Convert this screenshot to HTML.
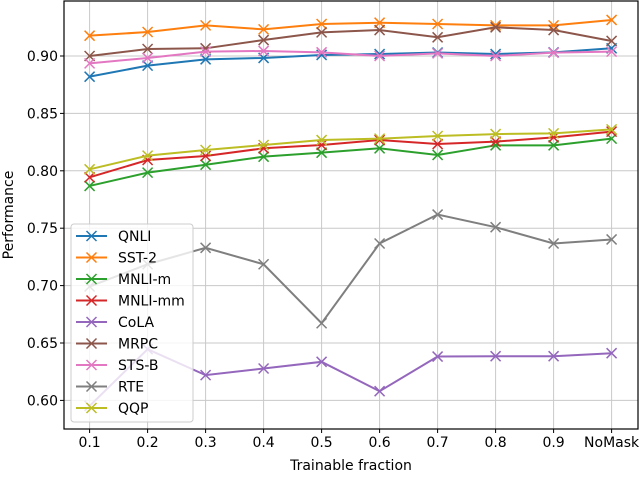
<!DOCTYPE html>
<html><head><meta charset="utf-8"><style>
body{margin:0;background:#fff}
text{font-family:"DejaVu Sans","Liberation Sans",sans-serif;fill:#000}
</style></head><body>
<svg id="chart" width="640" height="473" xmlns="http://www.w3.org/2000/svg"></svg>
<script>
const categories=["0.1","0.2","0.3","0.4","0.5","0.6","0.7","0.8","0.9","NoMask"];
const yTicks=[0.60,0.65,0.70,0.75,0.80,0.85,0.90];
const seriesNames=["QNLI","SST-2","MNLI-m","MNLI-mm","CoLA","MRPC","STS-B","RTE","QQP"];
const seriesColors=["#1f77b4","#ff7f0e","#2ca02c","#d62728","#9467bd","#8c564b","#e377c2","#7f7f7f","#bcbd22"];
const qnli=[0.882,0.8916,0.8971,0.8983,0.9009,0.9017,0.9030,0.9017,0.9032,0.9067];
const sst2=[0.9177,0.9209,0.9267,0.9232,0.9279,0.9290,0.9279,0.9267,0.9267,0.9314];
const mnliM=[0.7868,0.7984,0.8053,0.8123,0.8158,0.8196,0.8138,0.8222,0.8222,0.828];
const mnliMM=[0.7943,0.8094,0.8129,0.8196,0.8225,0.8268,0.8233,0.8254,0.8291,0.8341];
const cola=[0.5952,0.6446,0.622,0.6278,0.6336,0.608,0.6382,0.6385,0.6385,0.6411];
const mrpc=[0.900,0.9061,0.9067,0.9139,0.9206,0.9226,0.9163,0.925,0.9226,0.9131];
const stsb=[0.8936,0.8983,0.9038,0.9044,0.9032,0.900,0.9023,0.900,0.9029,0.9038];
const rte=[0.6992,0.7186,0.7329,0.7186,0.6672,0.7367,0.7619,0.7509,0.7367,0.7402];
const qqp=[0.8013,0.8132,0.8181,0.8225,0.8268,0.828,0.8303,0.832,0.8326,0.8361];
const seriesData=[qnli,sst2,mnliM,mnliMM,cola,mrpc,stsb,rte,qqp];

const L=64,R=638,T=1,B=429;
const x0=89.6,dx=58.0;
function xs(i){return x0+i*dx;}
function ys(v){return 56+(0.90-v)/0.05*57.4;}
const NS="http://www.w3.org/2000/svg";
const svg=document.getElementById('chart');
function mk(tag,attrs,parent){const e=document.createElementNS(NS,tag);for(const k in attrs)e.setAttribute(k,attrs[k]);(parent||svg).appendChild(e);return e;}

const grid=mk('g',{});


categories.forEach((c,i)=>{
  mk('line',{x1:xs(i),x2:xs(i),y1:T,y2:B,stroke:'#c8c8c8','stroke-width':1},grid);
  mk('line',{x1:xs(i),x2:xs(i),y1:B,y2:B+4,stroke:'#000','stroke-width':1},grid);
  const t=mk('text',{x:xs(i),y:B+18,'font-size':14,'text-anchor':'middle'});
  t.textContent=c;
  
  
});
yTicks.forEach(v=>{
  mk('line',{x1:L,x2:R,y1:ys(v),y2:ys(v),stroke:'#c8c8c8','stroke-width':1},grid);
  mk('line',{x1:L-4,x2:L,y1:ys(v),y2:ys(v),stroke:'#000','stroke-width':1},grid);
  const t=mk('text',{x:L-6,y:ys(v)+5,'font-size':14,'text-anchor':'end'});
  t.textContent=v.toFixed(2);
  
  
});

seriesData.forEach((d,si)=>{
  const g=mk('g',{});
  
  
  mk('polyline',{points:d.map((v,i)=>xs(i)+','+ys(v)).join(' '),fill:'none',stroke:seriesColors[si],'stroke-width':2},g);
  d.forEach((v,i)=>{
    const x=xs(i),y=ys(v),s=5;
    mk('path',{d:`M${x-s},${y-s}L${x+s},${y+s}M${x-s},${y+s}L${x+s},${y-s}`,stroke:seriesColors[si],'stroke-width':1.5},g);
  });
});

const frame=mk('rect',{x:L,y:T,width:R-L,height:B-T,fill:'none',stroke:'#000','stroke-width':1.2});



const leg=mk('g',{});


mk('rect',{x:71,y:224,width:122,height:198,rx:3,fill:'rgba(255,255,255,0.8)',stroke:'#ccc'},leg);
seriesNames.forEach((n,i)=>{
  const y=236+i*21.5;
  const e=mk('g',{},leg);
  
  
  mk('line',{x1:76,x2:107,y1:y,y2:y,stroke:seriesColors[i],'stroke-width':2},e);
  mk('path',{d:`M${91.5-5},${y-5}L${91.5+5},${y+5}M${91.5-5},${y+5}L${91.5+5},${y-5}`,stroke:seriesColors[i],'stroke-width':1.5},e);
  const t=mk('text',{x:118,y:y+5,'font-size':14},e);
  t.textContent=n;
});

const xl=mk('text',{x:351,y:470,'font-size':14,'text-anchor':'middle'});
xl.textContent='Trainable fraction';


const yl=mk('text',{x:13,y:215,'font-size':14,'text-anchor':'middle',transform:'rotate(-90 13 215)'});
yl.textContent='Performance';


</script>
</body></html>
